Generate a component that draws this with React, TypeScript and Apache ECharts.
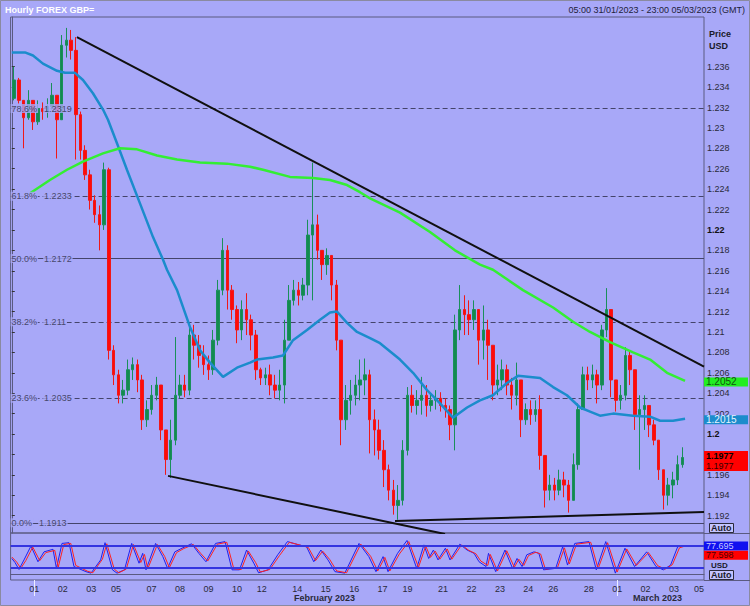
import React, { useEffect, useRef } from "react";
import * as echarts from "echarts";

// ---------- data (x unit = trading hours since 05:00 31/01/2023) ----------
const candleFirstHour = 2;
const candleHours = 4;
const firstOpen = 1.2329;
const closes = [
  1.2347, 1.2327, 1.2310, 1.2327, 1.2306, 1.2319, 1.2316, 1.2321, 1.2332, 1.2308,
  1.2381, 1.2386, 1.2376, 1.2313, 1.2278, 1.2254, 1.2229, 1.2215, 1.2205, 1.2259,
  1.2082, 1.2058, 1.2038, 1.2043, 1.2063, 1.2068, 1.2053, 1.2014, 1.2024, 1.2038,
  1.2048, 1.2004, 1.1975, 1.1994, 1.2038, 1.2048, 1.2043, 1.2097, 1.2087, 1.2077,
  1.2068, 1.2063, 1.2092, 1.2141, 1.2180, 1.2141, 1.2122, 1.2102, 1.2122, 1.2112,
  1.2097, 1.2063, 1.2055, 1.2058, 1.2048, 1.2043, 1.2048, 1.2092, 1.2131, 1.2141,
  1.2136, 1.2146, 1.2195, 1.2205, 1.2180, 1.2166, 1.2175, 1.2146, 1.2092, 1.2014,
  1.2033, 1.2038, 1.2048, 1.2053, 1.2058, 1.2014, 1.2004, 1.1984, 1.1965, 1.1945,
  1.1930, 1.1935, 1.1984, 1.2038, 1.2028, 1.2033, 1.2038, 1.2028, 1.2033, 1.2035,
  1.2028, 1.2024, 1.2009, 1.2102, 1.2122, 1.2117, 1.2112, 1.2122, 1.2092, 1.2102,
  1.2087, 1.2048, 1.2053, 1.2063, 1.2048, 1.2038, 1.2053, 1.2014, 1.2024, 1.2019,
  1.2024, 1.1979, 1.1945, 1.1950, 1.1945, 1.1955, 1.1950, 1.1935, 1.1970, 1.2024,
  1.2058, 1.2053, 1.2058, 1.2048, 1.2102, 1.2122, 1.2053, 1.2033, 1.2038, 1.2077,
  1.2063, 1.2019, 1.2024, 1.2028, 1.2009, 1.1994, 1.1965, 1.1940, 1.1950, 1.1955,
  1.1970, 1.1977,
];
const highs = [
  1.2360, 1.2349, 1.2327, 1.2337, 1.2327, 1.2327, 1.2325, 1.2329, 1.2344, 1.2332,
  1.2391, 1.2398, 1.2396, 1.2389, 1.2316, 1.2283, 1.2259, 1.2234, 1.2224, 1.2266,
  1.2261, 1.2087, 1.2063, 1.2053, 1.2073, 1.2075, 1.2073, 1.2058, 1.2033, 1.2048,
  1.2056, 1.2048, 1.2004, 1.2014, 1.2095, 1.2058, 1.2058, 1.2109, 1.2107, 1.2097,
  1.2087, 1.2077, 1.2102, 1.2151, 1.2192, 1.2185, 1.2146, 1.2126, 1.2131, 1.2138,
  1.2117, 1.2102, 1.2065, 1.2065, 1.2068, 1.2058, 1.2063, 1.2112, 1.2146, 1.2151,
  1.2149, 1.2153, 1.2210, 1.2266, 1.2215, 1.2180, 1.2182, 1.2175, 1.2151, 1.2092,
  1.2048, 1.2053, 1.2058, 1.2073, 1.2074, 1.2063, 1.2024, 1.2014, 1.1994, 1.1970,
  1.1955, 1.1950, 1.1994, 1.2046, 1.2048, 1.2043, 1.2056, 1.2048, 1.2040, 1.2043,
  1.2041, 1.2035, 1.2028, 1.2117, 1.2146, 1.2136, 1.2131, 1.2131, 1.2122, 1.2126,
  1.2112, 1.2082, 1.2068, 1.2073, 1.2068, 1.2055, 1.2070, 1.2048, 1.2030, 1.2033,
  1.2033, 1.2038, 1.1970, 1.1960, 1.1957, 1.1965, 1.1963, 1.1955, 1.1981, 1.2030,
  1.2066, 1.2066, 1.2068, 1.2063, 1.2107, 1.2143, 1.2122, 1.2053, 1.2048, 1.2085,
  1.2082, 1.2063, 1.2038, 1.2038, 1.2024, 1.2014, 1.1994, 1.1965, 1.1957, 1.1963,
  1.1979, 1.1987,
];
const lows = [
  1.2327, 1.2324, 1.2280, 1.2308, 1.2298, 1.2303, 1.2308, 1.2310, 1.2318, 1.2270,
  1.2308, 1.2369, 1.2367, 1.2269, 1.2269, 1.2249, 1.2220, 1.2207, 1.2180, 1.2200,
  1.2073, 1.2048, 1.2030, 1.2030, 1.2038, 1.2053, 1.2041, 1.2004, 1.2007, 1.2019,
  1.2033, 1.1994, 1.1960, 1.1957, 1.1989, 1.2035, 1.2036, 1.2038, 1.2073, 1.2065,
  1.2058, 1.2053, 1.2058, 1.2087, 1.2136, 1.2122, 1.2112, 1.2089, 1.2092, 1.2097,
  1.2082, 1.2053, 1.2048, 1.2048, 1.2038, 1.2035, 1.2033, 1.2030, 1.2112, 1.2126,
  1.2126, 1.2131, 1.2136, 1.2131, 1.2171, 1.2151, 1.2156, 1.2131, 1.2082, 1.1989,
  1.2004, 1.2019, 1.2028, 1.2033, 1.2038, 1.1981, 1.1979, 1.1975, 1.1948, 1.1935,
  1.1921, 1.1916, 1.1930, 1.1979, 1.2021, 1.2019, 1.2019, 1.2017, 1.2022, 1.2024,
  1.2022, 1.2016, 1.1994, 1.1984, 1.2092, 1.2097, 1.2097, 1.2102, 1.2068, 1.2073,
  1.2053, 1.2033, 1.2038, 1.2043, 1.2038, 1.2024, 1.2028, 1.1997, 1.2009, 1.2009,
  1.2012, 1.1965, 1.1928, 1.1935, 1.1935, 1.1940, 1.1938, 1.1923, 1.1935, 1.1965,
  1.2028, 1.2043, 1.2045, 1.2030, 1.2043, 1.2095, 1.2036, 1.2022, 1.2024, 1.2033,
  1.2048, 1.2004, 1.1965, 1.2004, 1.1997, 1.1989, 1.1955, 1.1926, 1.1930, 1.1937,
  1.1950, 1.1967,
];

const blueMA: [number, number][] = [
  [0, 1.2374], [11.1, 1.2374], [17.9, 1.2371], [26.3, 1.2363], [38.2, 1.2356], [44.9, 1.2354],
  [53.3, 1.2354], [60.1, 1.2347], [68.5, 1.2334], [77, 1.2318], [81.2, 1.2308], [88.8, 1.2285],
  [97.2, 1.2259], [108.2, 1.2226], [119.2, 1.2193], [127.6, 1.2171], [131, 1.2161], [139.5, 1.2141],
  [150.4, 1.2105], [158.9, 1.2082], [167.3, 1.207], [178.3, 1.2056], [190.1, 1.2065], [201.1, 1.207],
  [207, 1.2073], [220.5, 1.2075], [228.9, 1.2077], [237.4, 1.2092], [249.2, 1.2102], [260.2, 1.2112],
  [268.6, 1.2119], [274.5, 1.212], [283, 1.2109], [291.4, 1.21], [302.4, 1.2094], [310.8, 1.2089],
  [327.7, 1.2073], [338.7, 1.206], [350.5, 1.2043], [361.5, 1.203], [372.4, 1.2016], [384.3, 1.2026],
  [395.2, 1.2033], [406.2, 1.2038], [418, 1.205], [427.3, 1.2057], [445.9, 1.2055], [456.9, 1.2046],
  [468.6, 1.2038], [479.7, 1.2026], [488.1, 1.2022], [496.5, 1.2018], [507.5, 1.202], [524.4, 1.2018],
  [538.8, 1.2017], [547.2, 1.2013], [558.2, 1.2013], [568.3, 1.2015],
];
const greenMA: [number, number][] = [
  [15.4, 1.2236], [32.2, 1.2249], [46.6, 1.2259], [60.1, 1.2267], [77, 1.2275], [91.3, 1.228],
  [105.7, 1.2279], [122.6, 1.2273], [139.5, 1.2269], [158.9, 1.2266], [181.6, 1.2265], [201.1, 1.2262],
  [212.1, 1.2259], [234.8, 1.2252], [254.3, 1.2251], [268.6, 1.2249], [283, 1.2244], [293.9, 1.2237],
  [302.4, 1.2231], [327.7, 1.2217], [353, 1.2198], [374.1, 1.218], [395.2, 1.2166], [406.2, 1.2161],
  [431.5, 1.2141], [456.9, 1.2124], [473.8, 1.211], [488.1, 1.21], [505, 1.209], [524.4, 1.208],
  [538.8, 1.2073], [553.1, 1.206], [568.3, 1.2052],
];

const fibPct = ["78.6%", "61.8%", "50.0%", "38.2%", "23.6%", "0.0%"];
const fibLevels = [1.2319, 1.2233, 1.2172, 1.211, 1.2035, 1.1913];
const fibSolid = [false, false, true, false, false, true];

const trendResistance: [number, number][] = [[55, 1.2389], [584.3, 1.2066]];
const trendSupportA: [number, number][] = [[131.9, 1.1959], [365.7, 1.1902]];
const trendSupportB: [number, number][] = [[323.5, 1.19147], [584.3, 1.19236]];

const stochK: [number, number][] = [
  [0, 44], [2.7, 33], [6.1, 14], [10.3, 40], [16.2, 78], [22.1, 35], [27.2, 62], [34.8, 69], [37.7, 17], [42.4, 85],
  [48.3, 87], [52.5, 22], [62.6, 8], [66.9, 4], [75, 40], [78.7, 87], [85, 13], [88.8, 4], [95.1, 13], [101.2, 85],
  [107.4, 31], [110.5, 58], [113.3, 13], [121.4, 85], [127.5, 49], [131.5, 17], [137.6, 62], [143.7, 72], [151.8, 84], [157.9, 58],
  [163.9, 35], [172, 85], [180, 90], [185.9, 13], [192.2, 13], [198.2, 67], [204.3, 31], [208.3, 5], [216.3, 13], [224.5, 54],
  [232.7, 90], [242.4, 81], [248.8, 76], [254.9, 35], [260.9, 67], [266.9, 40], [272.8, 8], [281.1, 4], [293.1, 85], [301.4, 49],
  [307.4, 8], [313.4, 49], [317.6, 8], [325.6, 58], [333.6, 93], [341.8, 17], [347.9, 81], [351.9, 44], [355.9, 67], [359.8, 40],
  [366, 72], [369.9, 40], [378.2, 83], [384.3, 67], [390.2, 58], [394.4, 35], [400.3, 22], [402.4, 58], [408.5, 8], [416.3, 67],
  [422.7, 17], [426.5, 44], [430.7, 22], [434.7, 54], [440.8, 62], [444.9, 58], [448.9, 13], [459.1, 17], [465, 76], [469.1, 26],
  [475.2, 85], [487.2, 90], [493.4, 13], [501.4, 90], [509.5, 4], [517.6, 72], [525.7, 22], [535.9, 62], [543.8, 22], [550, 13],
  [556.1, 26], [562.1, 76], [568.2, 77.695],
];
const stochD: [number, number][] = [
  [0, 48], [4.2, 34], [7.6, 17], [11.8, 38], [17.7, 75], [23.6, 38], [28.7, 60], [36.3, 66], [39.2, 20], [43.9, 82],
  [49.8, 85], [54, 25], [64.1, 9], [68.4, 5], [76.5, 42], [80.2, 84], [86.5, 15], [90.3, 5], [96.6, 15], [102.7, 82],
  [108.9, 33], [112, 55], [114.8, 16], [122.9, 82], [129, 50], [133, 19], [139.1, 60], [145.2, 71], [153.3, 82], [159.4, 58],
  [165.4, 37], [173.5, 83], [181.5, 88], [187.4, 16], [193.7, 14], [199.7, 64], [205.8, 33], [209.8, 7], [217.8, 14], [226, 52],
  [234.2, 88], [243.9, 80], [250.3, 74], [256.4, 38], [262.4, 64], [268.4, 41], [274.3, 10], [282.6, 5], [294.6, 83], [302.9, 50],
  [308.9, 10], [314.9, 47], [319.1, 10], [327.1, 56], [335.1, 90], [343.3, 20], [349.4, 78], [353.4, 47], [357.4, 64], [361.3, 42],
  [367.5, 70], [371.4, 42], [379.7, 81], [385.8, 66], [391.7, 57], [395.9, 37], [401.8, 25], [403.9, 55], [410, 10], [417.8, 65],
  [424.2, 20], [428, 42], [432.2, 25], [436.2, 52], [442.3, 61], [446.4, 56], [450.4, 15], [460.6, 19], [466.5, 73], [470.6, 29],
  [476.7, 83], [488.7, 88], [494.9, 16], [502.9, 87], [511, 7], [519.1, 70], [527.2, 25], [537.4, 60], [545.3, 24], [551.5, 15],
  [557.6, 27], [563.6, 73], [568.2, 77.598],
];
const stochBands = [80, 20];

const dayTicks = [19, 43, 67, 88, 118, 142, 166, 190, 211, 241, 265, 289, 313, 334, 364, 388, 412, 436, 457, 487, 511, 535, 559, 580];
const dayLabels = ["01", "02", "03", "05", "07", "08", "09", "10", "12", "14", "15", "16", "17", "19", "21", "22", "23", "24", "26", "28", "01", "02", "03", "05"];
const monthTicks = [19, 511];
const monthLabelPos = [264, 545];
const monthNames = ["February 2023", "March 2023"];
const priceTicks = [
  1.192, 1.194, 1.196, 1.198, 1.2, 1.202, 1.204, 1.206, 1.208, 1.21, 1.212, 1.214,
  1.216, 1.218, 1.22, 1.222, 1.224, 1.226, 1.228, 1.23, 1.232, 1.234, 1.236,
];
// 1.198 is hidden behind the last-price tag in the reference
const priceLabels = [
  1.192, 1.194, 1.196, 1.2, 1.202, 1.204, 1.206, 1.208, 1.21, 1.212, 1.214,
  1.216, 1.218, 1.22, 1.222, 1.224, 1.226, 1.228, 1.23, 1.232, 1.234, 1.236,
];
const lastClose = 1.1977;
const lastBlue = 1.2015;
const lastGreen = 1.2052;
const lastK = 77.695;
const lastD = 77.598;

// ---------- style ----------
const FONT = '"Liberation Sans", Arial, sans-serif';
const BG = "#a8a8f8";
const FRAME = "#5a5a80";
const X_MIN = -1;
const X_MAX = 584.3;
const Y_MIN = 1.1903;
const Y_MAX = 1.24087;
const OSC_MIN = -14.7;
const OSC_MAX = 113.4;
const HIDDEN_LINE = { color: "rgba(0,0,0,0)", width: 0 };

function tagLabel(text: string, bg: string, fg: string, extra: any = {}) {
  return {
    show: true,
    position: "end",
    distance: 0,
    formatter: text,
    backgroundColor: bg,
    color: fg,
    fontFamily: FONT,
    fontSize: 10,
    lineHeight: 9,
    padding: [0, 2, 0, 2],
    width: 40,
    ...extra,
  };
}

export default function App() {
  const ref = useRef<HTMLDivElement>(null);

  useEffect(() => {
    document.body.style.margin = "0";
    const chart = echarts.init(ref.current as HTMLDivElement, null, { renderer: "svg" });

    const candles = closes.map((c, i) => {
      const o = i === 0 ? firstOpen : closes[i - 1];
      return [
        candleFirstHour + i * candleHours,
        o,
        c,
        Math.min(lows[i], o, c),
        Math.max(highs[i], o, c),
      ];
    });

    const fibMarks = fibLevels.map((lvl, i) => ({
      yAxis: lvl,
      label: { show: false },
      lineStyle: {
        color: "#44446a",
        width: 1,
        type: fibSolid[i] ? "solid" : [5, 3],
      },
    }));

    const lineSeries = (name: string, data: any, color: string, width: number, extra: any = {}) => ({
      name,
      type: "line",
      xAxisIndex: 0,
      yAxisIndex: 0,
      data,
      showSymbol: false,
      symbol: "none",
      clip: true,
      silent: true,
      lineStyle: { color, width },
      z: 4,
      ...extra,
    });

    const option: any = {
      animation: false,
      backgroundColor: BG,
      textStyle: { fontFamily: FONT },
      grid: [
        { left: 10.6, right: 46, top: 17, height: 516, show: true, borderColor: FRAME, borderWidth: 1 },
        { left: 10.6, right: 46, top: 533, height: 47, show: true, borderColor: FRAME, borderWidth: 1 },
      ],
      xAxis: [
        { type: "value", gridIndex: 0, min: X_MIN, max: X_MAX, show: false },
        {
          type: "value",
          gridIndex: 1,
          min: X_MIN,
          max: X_MAX,
          position: "bottom",
          axisLine: { show: true, lineStyle: { color: FRAME } },
          axisTick: { show: false },
          splitLine: { show: false },
          axisLabel: {
            customValues: dayTicks,
            formatter: (v: number) => {
              const i = dayTicks.indexOf(v);
              return i >= 0 ? dayLabels[i] : "";
            },
            fontSize: 9,
            color: "#2a2a3a",
            margin: 4,
            fontFamily: FONT,
          },
        },
        {
          type: "value",
          gridIndex: 1,
          min: X_MIN,
          max: X_MAX,
          position: "bottom",
          axisLine: { show: false },
          axisTick: { show: true, customValues: monthTicks, length: 16, lineStyle: { color: "#eef" } },
          splitLine: { show: false },
          axisLabel: {
            customValues: monthLabelPos,
            formatter: (v: number) => {
              const i = monthLabelPos.indexOf(v);
              return i >= 0 ? monthNames[i] : "";
            },
            fontSize: 9,
            fontWeight: "bold",
            color: "#2a2a3a",
            margin: 13,
            fontFamily: FONT,
          },
        },
      ],
      yAxis: [
        {
          type: "value",
          gridIndex: 0,
          position: "right",
          min: Y_MIN,
          max: Y_MAX,
          axisLine: { show: true, lineStyle: { color: FRAME } },
          axisTick: { show: true, customValues: priceTicks, length: 3, lineStyle: { color: "#333" } },
          splitLine: { show: false },
          axisLabel: {
            customValues: priceLabels,
            margin: 3,
            fontSize: 9,
            lineHeight: 9,
            color: "#2a2a3a",
            fontFamily: FONT,
            formatter: (v: number) => {
              const s = String(Math.round(v * 1000) / 1000);
              const bold = Math.abs(v * 50 - Math.round(v * 50)) < 1e-6;
              return bold ? `{b|${s}}` : s;
            },
            rich: { b: { fontWeight: "bold", fontSize: 9, lineHeight: 9, color: "#111", fontFamily: FONT } },
          },
        },
        { type: "value", gridIndex: 1, position: "right", min: OSC_MIN, max: OSC_MAX, show: false },
      ],
      series: [
        {
          name: "GBP=",
          type: "candlestick",
          xAxisIndex: 0,
          yAxisIndex: 0,
          data: candles,
          encode: { x: 0, y: [1, 2, 3, 4] },
          barWidth: 3,
          silent: true,
          z: 3,
          itemStyle: {
            color: "#138a50",
            color0: "#ff0a0a",
            borderColor: "#1a8f5a",
            borderColor0: "#f01818",
            borderWidth: 1,
          },
          markLine: {
            symbol: "none",
            silent: true,
            precision: 5,
            z: 1,
            data: [
              ...fibMarks,
              {
                yAxis: lastClose,
                lineStyle: HIDDEN_LINE,
                label: tagLabel(`{a|${lastClose}}\n{c|${lastClose}}`, "#ff0000", "#000", {
                  offset: [0, 3.5],
                  padding: [0, 2, 0, 2],
                  fontSize: 9,
                  lineHeight: 10,
                  rich: {
                    a: { fontWeight: "bold", fontSize: 9, color: "#000", fontFamily: FONT, lineHeight: 10 },
                    c: { fontSize: 9, color: "#300", fontFamily: FONT, lineHeight: 10 },
                  },
                }),
              },
            ],
          },
        },
        {
          name: "fibLabels",
          type: "scatter",
          xAxisIndex: 0,
          yAxisIndex: 0,
          symbolSize: 0,
          silent: true,
          z: 5,
          data: fibLevels.map((lvl) => [X_MIN, lvl]),
          label: {
            show: true,
            position: "right",
            distance: 0,
            formatter: (p: any) => `{t|${fibPct[p.dataIndex]}}{g|  }{t|${String(fibLevels[p.dataIndex])}}`,
            rich: {
              t: { backgroundColor: BG, color: "#2c2c44", fontSize: 9, fontFamily: FONT, padding: [0, 1] },
              g: { fontSize: 9, fontFamily: FONT },
            },
          },
        },
        lineSeries("MA blue", blueMA, "#1b8ccc", 2.5, {
          markLine: {
            symbol: "none",
            silent: true,
            precision: 5,
            data: [{ yAxis: lastBlue, lineStyle: HIDDEN_LINE, label: tagLabel(String(lastBlue), "#1b8ccc", "#e6f4ff", { offset: [0, 1] }) }],
          },
        }),
        lineSeries("MA green", greenMA, "#33ee33", 2.5, {
          markLine: {
            symbol: "none",
            silent: true,
            precision: 5,
            data: [{ yAxis: lastGreen, lineStyle: HIDDEN_LINE, label: tagLabel(String(lastGreen), "#22ee22", "#145014", { offset: [0, 1] }) }],
          },
        }),
        lineSeries("Resistance", trendResistance, "#101010", 2),
        lineSeries("Support A", trendSupportA, "#101010", 2),
        lineSeries("Support B", trendSupportB, "#101010", 2),
        {
          name: "%K",
          type: "line",
          xAxisIndex: 1,
          yAxisIndex: 1,
          data: stochK,
          showSymbol: false,
          symbol: "none",
          silent: true,
          lineStyle: { color: "#2020ee", width: 1 },
          markLine: {
            symbol: "none",
            silent: true,
            precision: 3,
            data: [
              ...stochBands.map((b) => ({ yAxis: b, label: { show: false }, lineStyle: { color: "#3434e0", width: 2, type: "solid" } })),
              {
                yAxis: lastK,
                lineStyle: HIDDEN_LINE,
                label: tagLabel(String(lastK), "#1010f0", "#c8c8ff", { fontSize: 9, lineHeight: 9, padding: [0, 2] }),
              },
            ],
          },
        },
        {
          name: "%D",
          type: "line",
          xAxisIndex: 1,
          yAxisIndex: 1,
          data: stochD,
          showSymbol: false,
          symbol: "none",
          silent: true,
          lineStyle: { color: "#ff2020", width: 1 },
          markLine: {
            symbol: "none",
            silent: true,
            precision: 3,
            data: [
              {
                yAxis: lastD,
                lineStyle: HIDDEN_LINE,
                label: tagLabel(String(lastD), "#ff0000", "#4a0000", { offset: [0, 9], fontSize: 9, lineHeight: 9, padding: [0, 2] }),
              },
            ],
          },
        },
      ],
      graphic: [
        { type: "rect", shape: { x: 0.5, y: 0.5, width: 749, height: 605 }, style: { fill: "none", stroke: "#8a8aa0", lineWidth: 1 }, silent: true },
        {
          type: "text",
          left: 5,
          top: 5,
          style: { text: "Hourly FOREX GBP=", fill: "#ffffff", fontSize: 9, fontWeight: "bold", fontFamily: FONT },
        },
        {
          type: "text",
          right: 5,
          top: 5,
          style: { text: "05:00 31/01/2023 - 23:00 05/03/2023 (GMT)", fill: "#22223a", fontSize: 9, fontFamily: FONT },
        },
        {
          type: "text",
          left: 709,
          top: 28,
          style: { text: "Price\nUSD", fill: "#1a1a2a", fontSize: 9, fontWeight: "bold", fontFamily: FONT, lineHeight: 12 },
        },
        { type: "line", shape: { x1: 704, y1: 533.5, x2: 750, y2: 533.5 }, style: { stroke: FRAME, lineWidth: 1 }, silent: true },
        { type: "line", shape: { x1: 704, y1: 580.5, x2: 750, y2: 580.5 }, style: { stroke: FRAME, lineWidth: 1 }, silent: true },
        { type: "rect", shape: { x: 709.5, y: 523.5, width: 24, height: 9 }, style: { fill: "#c4c4ff", stroke: "#2a2a3a", lineWidth: 1 }, silent: true },
        { type: "text", left: 711, top: 523, style: { text: "Auto", fill: "#1a1a2a", fontSize: 9, fontWeight: "bold", fontFamily: FONT } },
        { type: "text", left: 711, top: 561, style: { text: "USD", fill: "#1a1a2a", fontSize: 8, fontWeight: "bold", fontFamily: FONT } },
        { type: "rect", shape: { x: 709.5, y: 570.5, width: 24, height: 9 }, style: { fill: "#c4c4ff", stroke: "#2a2a3a", lineWidth: 1 }, silent: true },
        { type: "text", left: 711, top: 570, style: { text: "Auto", fill: "#1a1a2a", fontSize: 9, fontWeight: "bold", fontFamily: FONT } },
      ],
    };

    chart.setOption(option);
    return () => chart.dispose();
  }, []);

  return (
    <div
      ref={ref}
      style={{ position: "fixed", left: 0, top: 0, width: 750, height: 606, background: BG }}
    />
  );
}
